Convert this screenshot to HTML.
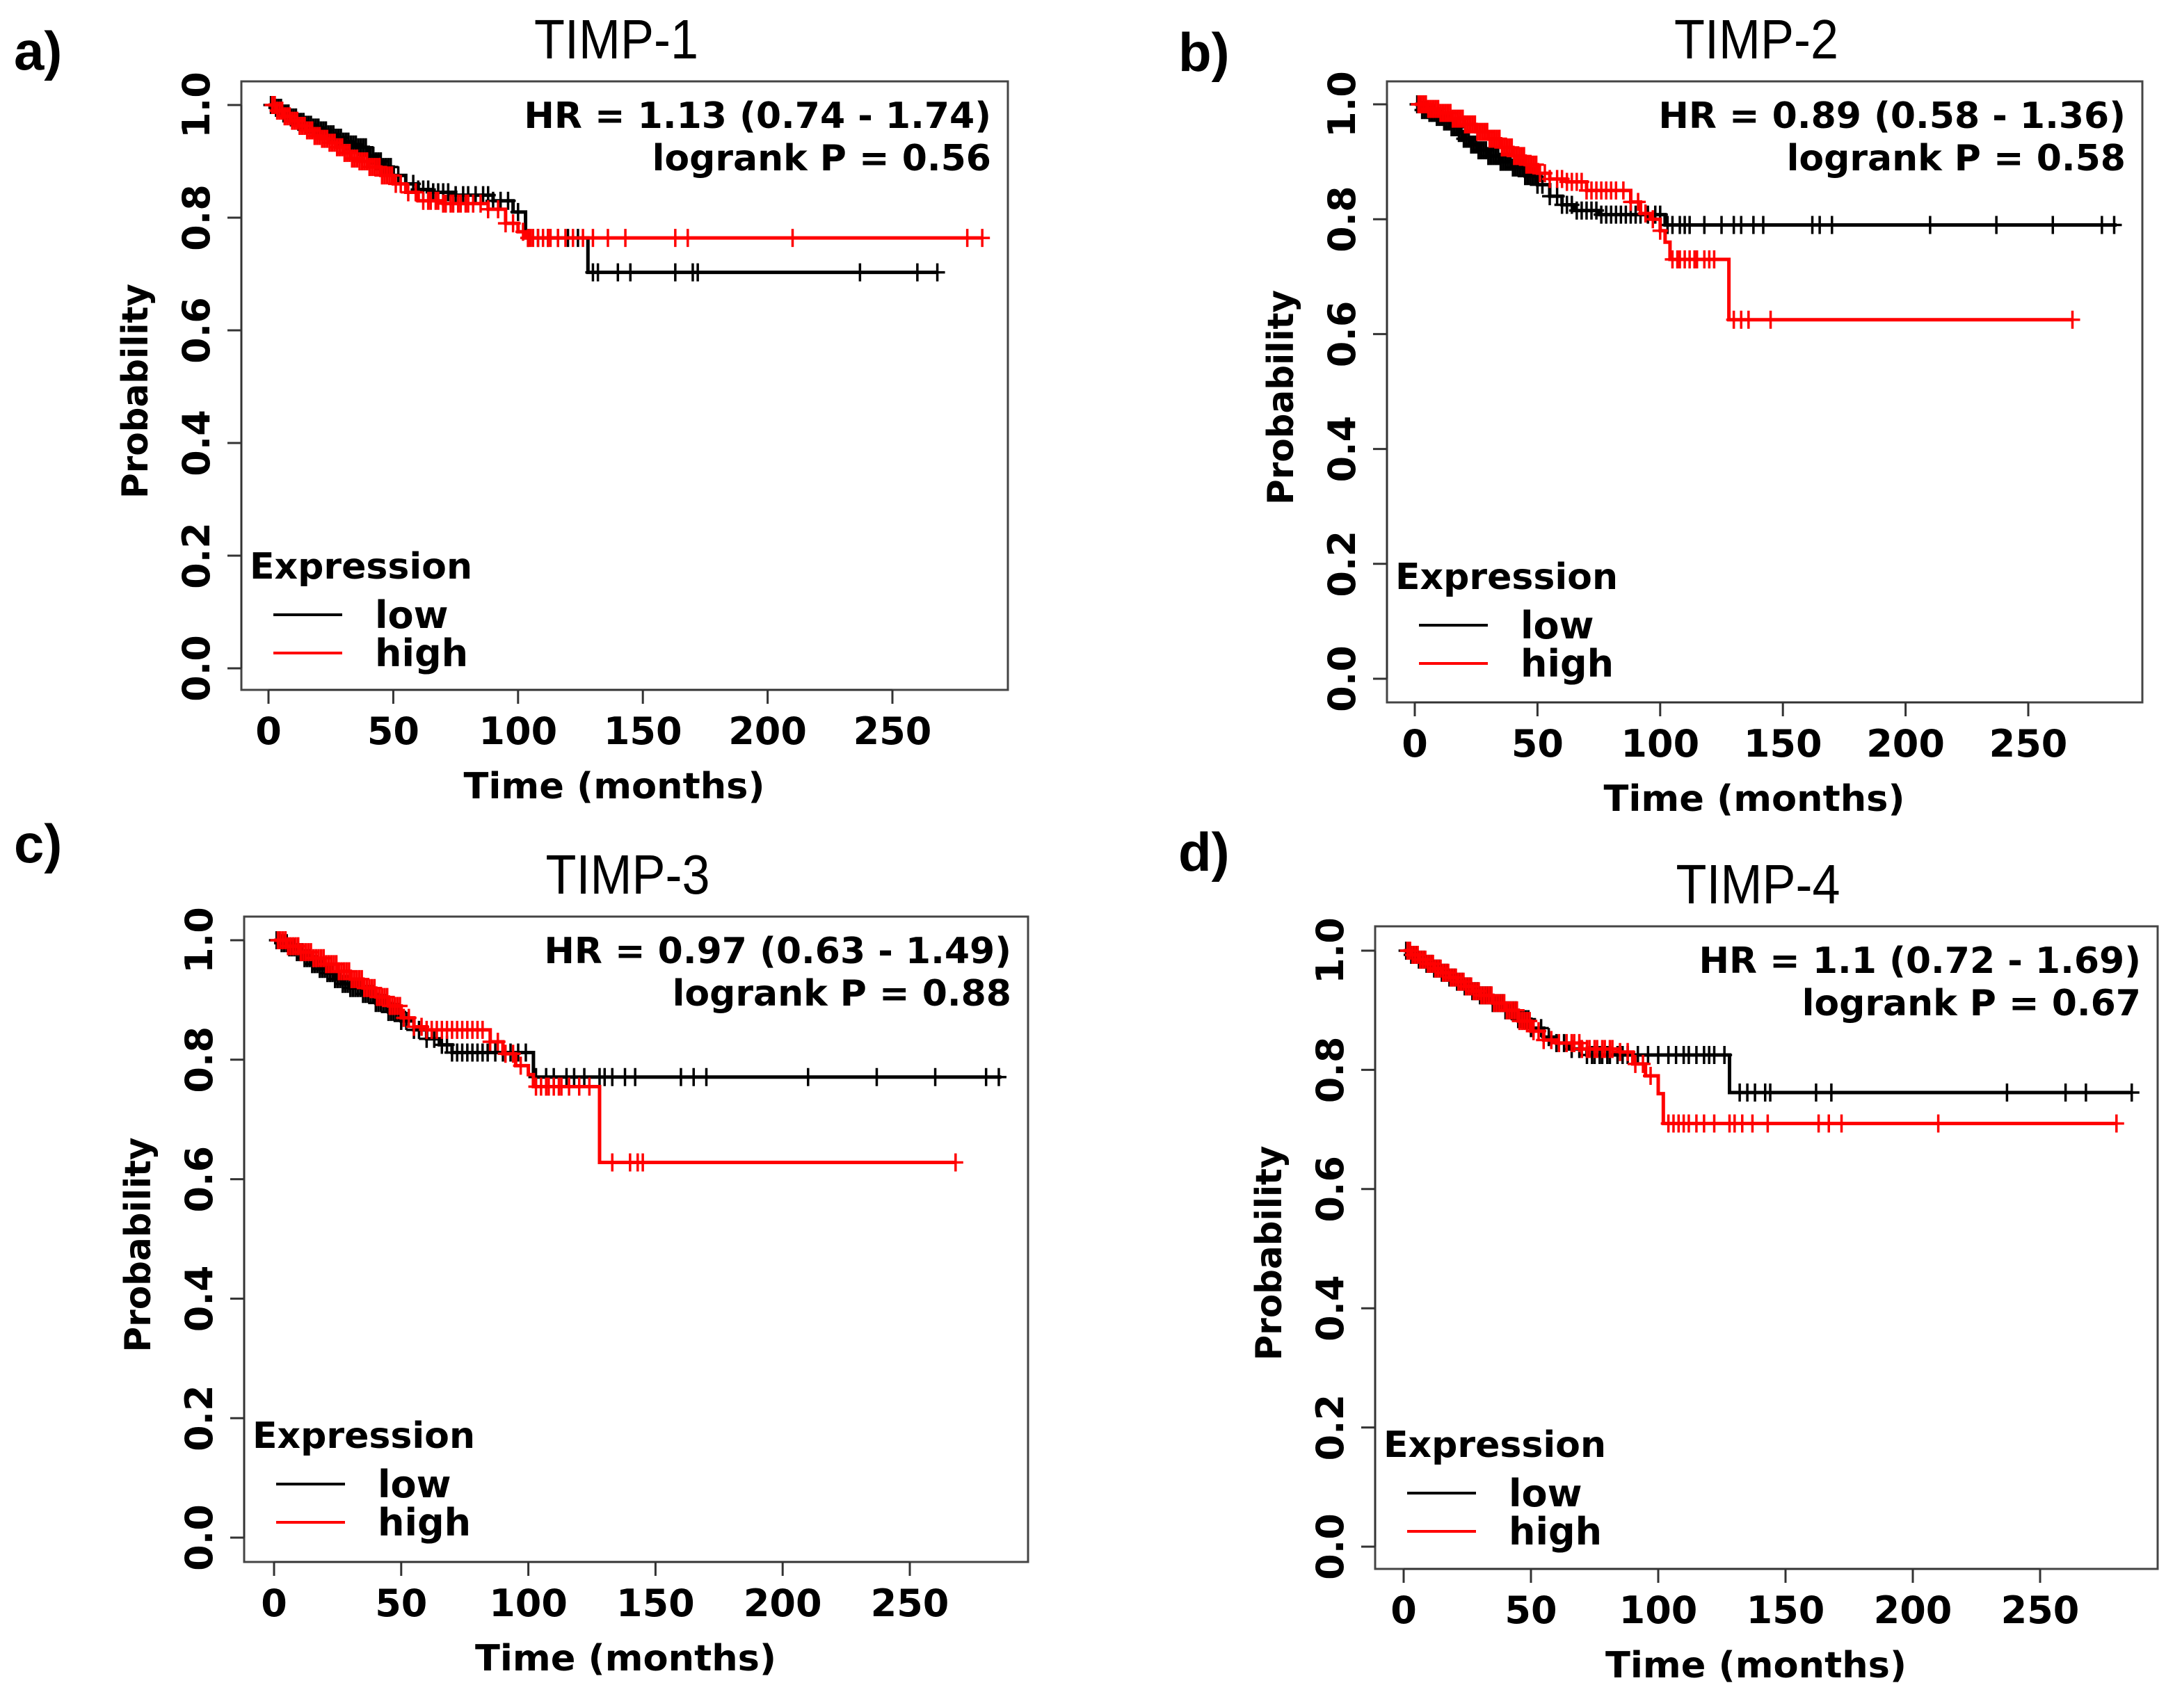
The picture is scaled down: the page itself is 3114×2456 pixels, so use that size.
<!DOCTYPE html>
<html><head><meta charset="utf-8"><style>
html,body{margin:0;padding:0;background:#fff;}
svg{display:block;}
</style></head><body>
<svg id="fig" xmlns="http://www.w3.org/2000/svg" width="3114" height="2456" viewBox="0 0 3114 2456"></svg>
<script>
// ---- data ----
const panelLetters = ["a)", "b)", "c)", "d)"];
const panelTitles = ["TIMP-1", "TIMP-2", "TIMP-3", "TIMP-4"];
const hrTexts = ["HR = 1.13 (0.74 - 1.74)", "HR = 0.89 (0.58 - 1.36)", "HR = 0.97 (0.63 - 1.49)", "HR = 1.1 (0.72 - 1.69)"];
const pTexts = ["logrank P = 0.56", "logrank P = 0.58", "logrank P = 0.88", "logrank P = 0.67"];
const xTicks = [0, 50, 100, 150, 200, 250];
const yTicks = [0, 0.2, 0.4, 0.6, 0.8, 1.0];
const yTickLabels = ["0.0", "0.2", "0.4", "0.6", "0.8", "1.0"];

// shared dense early censor times (months)
const earlyCens1 = [1,2,3,4,5,6,7,8,9,10,11,12,13,14,15,16,17,18,19,20,21,22,23,24,25,26,27,28,29,30,31,32,33,34,35,36,37,38,39,40,41,42,43,44,45,46,47,48,49,50];
const earlyCens2 = [1.5,2.5,3.5,4.5,5.5,6.5,7.5,8.5,9.5,10.5,11.5,12.5,13.5,14.5,15.5,16.5,17.5,18.5,19.5,20.5,21.5,22.5,23.5,24.5,25.5,26.5,27.5,28.5,29.5,30.5,31.5,32.5,33.5,34.5,35.5,36.5,37.5,38.5,39.5,40.5,41.5,42.5,43.5,44.5,45.5,46.5,47.5,48.5,49.5];

// panel a
const aLowT = [0, 3, 6, 9, 12, 15, 18, 21, 24, 27, 30, 33, 36, 40, 43, 46, 50, 55, 60, 65, 75, 90, 98, 103, 128];
const aLowS = [1, 0.995, 0.985, 0.978, 0.97, 0.965, 0.96, 0.955, 0.948, 0.942, 0.935, 0.93, 0.925, 0.91, 0.9, 0.89, 0.875, 0.86, 0.85, 0.845, 0.84, 0.83, 0.81, 0.764, 0.703];
const aLowEnd = 268;
const aLowC = [52,55,58,60,62,64,66,68,70,72,75,78,80,83,86,88,90,93,96,100,104,108,112,116,120,124,130,132,140,145,163,170,172,237,260,268];
const aHighT = [0, 3, 6, 9, 12, 15, 18, 21, 24, 27, 30, 33, 36, 40, 45, 50, 55, 60, 70, 88, 95, 100, 103];
const aHighS = [1, 0.99, 0.98, 0.972, 0.963, 0.955, 0.945, 0.94, 0.933, 0.925, 0.915, 0.905, 0.9, 0.89, 0.875, 0.86, 0.845, 0.83, 0.825, 0.815, 0.79, 0.775, 0.764];
const aHighEnd = 286;
const aHighC = [51,53,56,59,62,64,65,67,68,70,71,73,74,76,77,79,80,82,85,88,92,95,98,102,104,105,106,108,110,112,113,116,119,122,126,130,136,143,163,168,210,280,286];

// panel b
const bLowT = [0, 3, 6, 9, 12, 15, 18, 20, 23, 26, 30, 35, 40, 45, 50, 55, 60, 65, 75, 102];
const bLowS = [1, 0.99, 0.985, 0.978, 0.97, 0.96, 0.95, 0.94, 0.93, 0.92, 0.91, 0.9, 0.89, 0.875, 0.86, 0.84, 0.825, 0.815, 0.808, 0.79];
const bLowEnd = 286;
const bLowC = [52,55,58,60,62,64,66,68,70,72,74,76,78,80,82,84,86,88,90,92,95,98,100,103,105,108,110,112,118,125,130,133,138,142,162,165,170,210,237,260,280,285];
const bHighT = [0, 5, 10, 15, 20, 25, 30, 35, 40, 45, 50, 55, 62, 70, 88, 92, 96, 100, 102, 104, 128];
const bHighS = [1, 0.992, 0.985, 0.975, 0.965, 0.952, 0.94, 0.925, 0.91, 0.895, 0.88, 0.87, 0.865, 0.85, 0.83, 0.81, 0.8, 0.78, 0.76, 0.73, 0.625];
const bHighEnd = 268;
const bHighC = [51,53,55,58,60,62,64,66,68,70,72,74,76,78,80,82,85,88,91,94,97,100,105,107,108,110,112,114,115,118,120,122,130,133,136,145,268];

// panel c
const cLowT = [0, 3, 6, 9, 12, 15, 18, 21, 24, 27, 30, 35, 40, 45, 50, 55, 60, 65, 70, 102];
const cLowS = [1, 0.995, 0.988, 0.98, 0.97, 0.96, 0.952, 0.945, 0.935, 0.927, 0.92, 0.91, 0.895, 0.88, 0.865, 0.85, 0.835, 0.825, 0.812, 0.771];
const cLowEnd = 286;
const cLowC = [52,55,57,60,63,66,68,70,72,74,76,78,80,82,84,87,90,93,96,99,103,107,110,115,118,122,128,130,133,138,142,160,165,170,210,237,260,280,285];
const cHighT = [0, 5, 10, 15, 20, 25, 30, 35, 40, 45, 50, 55, 60, 85, 90, 95, 100, 102, 128];
const cHighS = [1, 0.99, 0.98, 0.97, 0.96, 0.948, 0.935, 0.92, 0.905, 0.89, 0.87, 0.855, 0.85, 0.83, 0.81, 0.79, 0.775, 0.755, 0.628];
const cHighEnd = 268;
const cHighC = [51,53,55,58,60,62,64,66,68,70,72,74,76,78,80,82,85,88,91,94,97,103,105,107,108,110,112,113,116,120,124,133,140,143,145,268];

// panel d
const dLowT = [0, 3, 6, 9, 12, 15, 18, 21, 24, 27, 30, 35, 40, 45, 50, 55, 60, 65, 72, 128];
const dLowS = [1, 0.993, 0.985, 0.978, 0.97, 0.963, 0.955, 0.948, 0.94, 0.932, 0.925, 0.912, 0.9, 0.885, 0.87, 0.855, 0.845, 0.835, 0.825, 0.762];
const dLowEnd = 286;
const dLowC = [51,54,57,60,63,66,69,72,74,75,77,78,80,81,84,86,88,92,96,100,104,107,110,112,115,118,120,122,126,132,135,138,142,144,162,168,237,260,268,286];
const dHighT = [0, 3, 6, 9, 12, 15, 18, 21, 24, 27, 30, 35, 40, 45, 50, 55, 60, 70, 85, 90, 95, 100, 102];
const dHighS = [1, 0.993, 0.985, 0.978, 0.97, 0.963, 0.955, 0.948, 0.94, 0.932, 0.925, 0.912, 0.9, 0.882, 0.865, 0.85, 0.845, 0.835, 0.83, 0.81, 0.79, 0.76, 0.71];
const dHighEnd = 280;
const dHighC = [51,53,55,58,61,64,66,67,69,70,72,73,75,76,78,79,81,82,85,88,91,94,97,104,106,108,110,112,115,118,122,128,130,133,137,143,163,167,172,210,280];

const lowTimes = [aLowT, bLowT, cLowT, dLowT];
const lowSurv = [aLowS, bLowS, cLowS, dLowS];
const lowEnds = [aLowEnd, bLowEnd, cLowEnd, dLowEnd];
const lowCens = [aLowC, bLowC, cLowC, dLowC];
const highTimes = [aHighT, bHighT, cHighT, dHighT];
const highSurv = [aHighS, bHighS, cHighS, dHighS];
const highEnds = [aHighEnd, bHighEnd, cHighEnd, dHighEnd];
const highCens = [aHighC, bHighC, cHighC, dHighC];

// ---- layout (pixels) ----
const layouts = [
  {l:347, t:117, r:1449, b:992, x0:386, x250:1283, y1:151, y0:961, lx:20, ly:100},
  {l:1994, t:117, r:3080, b:1010, x0:2034, x250:2916, y1:150, y0:976, lx:1694, ly:102},
  {l:351, t:1318, r:1478, b:2246, x0:394, x250:1308, y1:1352, y0:2211, lx:20, ly:1240},
  {l:1977, t:1332, r:3102, b:2256, x0:2018, x250:2933, y1:1367, y0:2224, lx:1694, ly:1252}
];
const NS = "http://www.w3.org/2000/svg";
const svg = document.getElementById("fig");
function mk(tag, attrs, parent) {
  const e = document.createElementNS(NS, tag);
  for (const k in attrs) e.setAttribute(k, attrs[k]);
  (parent || svg).appendChild(e);
  return e;
}
const AX = '"DejaVu Sans", "Liberation Sans", sans-serif';

function survAt(ts, ss, t) {
  let s = ss[0];
  for (let i = 0; i < ts.length; i++) { if (ts[i] <= t) s = ss[i]; }
  return s;
}

layouts.forEach((L, p) => {
  const g = mk("g", {});
  
  
  const X = v => L.x0 + (L.x250 - L.x0) * v / 250;
  const Y = v => L.y0 - (L.y0 - L.y1) * v;
  const cx = (L.l + L.r) / 2;

  let e = mk("text", {x:L.lx, y:L.ly, "font-family":'"Liberation Sans", sans-serif', "font-weight":"bold", "font-size":78, fill:"#000"}, g);
  e.textContent = panelLetters[p];
  
  

  e = mk("text", {x:cx - 12, y:L.t - 33, "text-anchor":"middle", "font-family":'"Liberation Sans", sans-serif', "font-size":80, fill:"#000", textLength:236, lengthAdjust:"spacingAndGlyphs"}, g);
  e.textContent = panelTitles[p];
  
  

  e = mk("rect", {x:L.l, y:L.t, width:L.r - L.l, height:L.b - L.t, fill:"none", stroke:"#444", "stroke-width":3}, g);
  
  

  // x axis
  const xa = mk("g", {}, g);
  
  
  mk("line", {x1:X(0), x2:X(250), y1:L.b, y2:L.b, stroke:"#333", "stroke-width":3}, xa);
  xTicks.forEach(v => {
    mk("line", {x1:X(v), x2:X(v), y1:L.b, y2:L.b + 20, stroke:"#333", "stroke-width":3}, xa);
    const t = mk("text", {x:X(v), y:L.b + 78, "text-anchor":"middle", "font-family":AX, "font-weight":"bold", "font-size":54, fill:"#000"}, xa);
    t.textContent = String(v);
    
    
  });
  e = mk("text", {x:cx - 15, y:L.b + 156, "text-anchor":"middle", "font-family":AX, "font-weight":"bold", "font-size":52, fill:"#000", textLength:433, lengthAdjust:"spacingAndGlyphs"}, g);
  e.textContent = "Time (months)";
  
  

  // y axis
  const ya = mk("g", {}, g);
  
  
  mk("line", {x1:L.l, x2:L.l, y1:Y(0), y2:Y(1), stroke:"#333", "stroke-width":3}, ya);
  yTicks.forEach((v, i) => {
    mk("line", {x1:L.l - 20, x2:L.l, y1:Y(v), y2:Y(v), stroke:"#333", "stroke-width":3}, ya);
    const tx = L.l - 46, ty = Y(v);
    const t = mk("text", {x:tx, y:ty, "text-anchor":"middle", transform:`rotate(-90 ${tx} ${ty})`, "font-family":AX, "font-weight":"bold", "font-size":54, fill:"#000"}, ya);
    t.textContent = yTickLabels[i];
    
    
  });
  const px = L.l - 135, py = (L.t + L.b) / 2 + 8;
  e = mk("text", {x:px, y:py, "text-anchor":"middle", transform:`rotate(-90 ${px} ${py})`, "font-family":AX, "font-weight":"bold", "font-size":52, fill:"#000", textLength:309, lengthAdjust:"spacingAndGlyphs"}, g);
  e.textContent = "Probability";
  
  

  // annotations
  e = mk("text", {x:L.r - 24, y:L.t + 67, "text-anchor":"end", "font-family":AX, "font-weight":"bold", "font-size":52, fill:"#000"}, g);
  e.textContent = hrTexts[p];
  
  
  e = mk("text", {x:L.r - 24, y:L.t + 128, "text-anchor":"end", "font-family":AX, "font-weight":"bold", "font-size":52, fill:"#000"}, g);
  e.textContent = pTexts[p];
  
  

  // curves
  function drawSeries(ts, ss, end, cens, early, color, name) {
    const sg = mk("g", {}, g);
    
    
    let d = `M${X(ts[0])},${Y(ss[0])}`;
    for (let i = 1; i < ts.length; i++) d += ` H${X(ts[i])} V${Y(ss[i])}`;
    d += ` H${X(end)}`;
    const path = mk("path", {d:d, fill:"none", stroke:color, "stroke-width":5}, sg);
    
    
    let cd = "";
    early.concat(cens).forEach(c => {
      const x = X(c), y = Y(survAt(ts, ss, c));
      cd += `M${x},${y - 13} V${y + 13} M${x - 11},${y} H${x + 11} `;
    });
    const cp = mk("path", {d:cd, fill:"none", stroke:color, "stroke-width":3.5}, sg);
    
    
  }
  drawSeries(lowTimes[p], lowSurv[p], lowEnds[p], lowCens[p], earlyCens1, "#000", "low-series");
  drawSeries(highTimes[p], highSurv[p], highEnds[p], highCens[p], earlyCens2, "#ff0000", "high-series");

  // legend
  const lg = mk("g", {}, g);
  
  
  e = mk("text", {x:L.l + 12, y:L.y0 - 129, "font-family":AX, "font-weight":"bold", "font-size":52, fill:"#000", textLength:320, lengthAdjust:"spacingAndGlyphs"}, lg);
  e.textContent = "Expression";
  
  
  [["low", "#000", -77, -58], ["high", "#ff0000", -22, -3]].forEach(([lab, col, ly, ty]) => {
    const l = mk("line", {x1:L.l + 46, x2:L.l + 145, y1:L.y0 + ly, y2:L.y0 + ly, stroke:col, "stroke-width":4}, lg);
    
    
    const t = mk("text", {x:L.l + 192, y:L.y0 + ty, "font-family":AX, "font-weight":"bold", "font-size":54, fill:"#000"}, lg);
    t.textContent = lab;
    
    
  });
});
</script>
</body></html>
